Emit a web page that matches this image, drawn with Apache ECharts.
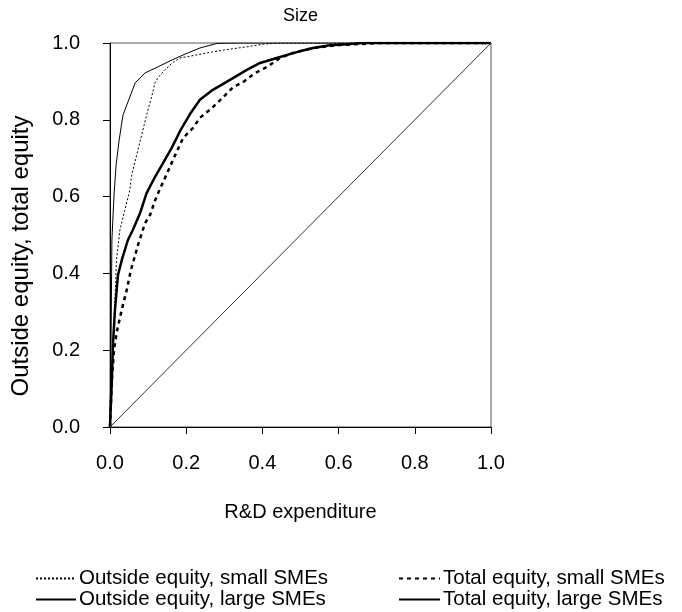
<!DOCTYPE html>
<html>
<head>
<meta charset="utf-8">
<script src="https://cdn.jsdelivr.net/npm/echarts@6/dist/echarts.min.js"></script>
<style>html,body{margin:0;padding:0;background:#fff}#c{width:682px;height:612px}</style>
</head>
<body>
<div id="c"></div>
<script>
var xTicks = [0, 0.2, 0.4, 0.6, 0.8, 1.0];
var yTicks = [0, 0.2, 0.4, 0.6, 0.8, 1.0];

var outsideSmallX = [0, 0.004, 0.008, 0.013, 0.017, 0.026, 0.039, 0.052, 0.057, 0.070, 0.083, 0.096, 0.109, 0.118, 0.127, 0.144, 0.163, 0.184, 0.228, 0.270, 0.315, 0.359, 0.402, 0.446, 1.0];
var outsideSmallY = [0, 0.122, 0.214, 0.331, 0.435, 0.513, 0.565, 0.617, 0.656, 0.708, 0.760, 0.812, 0.859, 0.896, 0.911, 0.930, 0.948, 0.961, 0.969, 0.977, 0.984, 0.990, 0.997, 1.0, 1.0];

var outsideLargeX = [0, 0.003, 0.005, 0.0105, 0.016, 0.024, 0.034, 0.045, 0.066, 0.092, 0.126, 0.163, 0.197, 0.236, 0.281, 0.34, 1.0];
var outsideLargeY = [0, 0.25, 0.487, 0.604, 0.682, 0.747, 0.812, 0.841, 0.896, 0.922, 0.938, 0.956, 0.971, 0.987, 0.999, 1.0, 1.0];

var totalSmallX = [0, 0.0045, 0.0105, 0.0176, 0.026, 0.034, 0.044, 0.055, 0.0735, 0.092, 0.105, 0.118, 0.131, 0.144, 0.157, 0.171, 0.192, 0.218, 0.236, 0.270, 0.297, 0.323, 0.349, 0.381, 0.412, 0.446, 0.480, 0.533, 0.604, 0.71, 1.0];
var totalSmallY = [0, 0.115, 0.200, 0.247, 0.284, 0.318, 0.357, 0.409, 0.474, 0.531, 0.552, 0.589, 0.620, 0.648, 0.677, 0.708, 0.753, 0.779, 0.805, 0.833, 0.859, 0.885, 0.898, 0.922, 0.9375, 0.961, 0.974, 0.987, 0.995, 1.0, 1.0];

var totalLargeX = [0, 0.0045, 0.008, 0.013, 0.021, 0.031, 0.047, 0.060, 0.079, 0.096, 0.118, 0.162, 0.184, 0.210, 0.236, 0.270, 0.315, 0.359, 0.394, 0.4375, 0.472, 0.493, 0.533, 0.577, 0.622, 0.664, 1.0];
var totalLargeY = [0, 0.115, 0.219, 0.305, 0.396, 0.435, 0.487, 0.513, 0.557, 0.609, 0.651, 0.727, 0.771, 0.815, 0.852, 0.878, 0.904, 0.930, 0.948, 0.961, 0.971, 0.977, 0.987, 0.994, 0.997, 1.0, 1.0];

var diagX = [0, 1];
var diagY = [0, 1];

var names = ['Outside equity, small SMEs', 'Total equity, small SMEs', 'Outside equity, large SMEs', 'Total equity, large SMEs'];
var titleText = 'Size';
var xName = 'R&D expenditure';
var yName = 'Outside equity, total equity';

function pairs(xs, ys) { return xs.map(function (x, i) { return [x, ys[i]]; }); }

var FONT = '"Liberation Sans", Arial, Helvetica, sans-serif';

function legendAt(name, left, top, w) {
  return {
    data: [name], orient: 'horizontal', left: left, top: top,
    itemWidth: w, itemHeight: 14, padding: 0,
    itemStyle: { color: 'rgba(0,0,0,0)', borderColor: 'rgba(0,0,0,0)', borderWidth: 0 },
    textStyle: { fontFamily: FONT, fontSize: 20.5, color: '#000', padding: [0, 0, 0, -2] },
    selectedMode: false
  };
}

var chart = echarts.init(document.getElementById('c'), null, { renderer: 'canvas' });
chart.setOption({
  backgroundColor: '#fff',
  animation: false,
  title: {
    text: titleText, left: 300.5, top: 7, textAlign: 'center', padding: 0,
    textStyle: { fontFamily: FONT, fontSize: 18, fontWeight: 'normal', color: '#000' }
  },
  grid: { left: 110, right: 191, top: 43, bottom: 185, show: true, borderColor: '#555', borderWidth: 1 },
  xAxis: {
    type: 'value', min: 0, max: 1, interval: 0.2,
    name: xName, nameLocation: 'middle', nameGap: 75,
    nameTextStyle: { fontFamily: FONT, fontSize: 20, color: '#000' },
    axisLine: { show: true, lineStyle: { color: '#000', width: 1 } },
    axisTick: { show: true, length: 7, lineStyle: { color: '#000' } },
    axisLabel: { margin: 26, fontFamily: FONT, fontSize: 20, color: '#000', formatter: function (v) { return v.toFixed(1); } },
    splitLine: { show: false }
  },
  yAxis: {
    type: 'value', min: 0, max: 1, interval: 0.2,
    axisLine: { show: true, lineStyle: { color: '#000', width: 1 } },
    axisTick: { show: true, length: 7, lineStyle: { color: '#000' } },
    axisLabel: { margin: 30, fontFamily: FONT, fontSize: 20, color: '#000', formatter: function (v) { return v.toFixed(1); } },
    splitLine: { show: false }
  },
  graphic: [{
    type: 'text', x: 21, y: 256, rotation: Math.PI / 2, silent: true,
    style: { text: yName, font: '24px "Liberation Sans", Arial, sans-serif', fill: '#000', align: 'center', verticalAlign: 'middle' }
  }],
  legend: [
    legendAt(names[0], 35, 568, 40),
    legendAt(names[1], 398, 568, 41),
    legendAt(names[2], 35, 589, 40),
    legendAt(names[3], 398, 589, 41)
  ],
  series: [
    { name: names[0], type: 'line', data: pairs(outsideSmallX, outsideSmallY), symbol: 'none', lineStyle: { color: '#000', width: 1, type: [2, 2] }, itemStyle: { color: '#000' } },
    { name: names[1], type: 'line', data: pairs(totalSmallX, totalSmallY), symbol: 'none', lineStyle: { color: '#000', width: 2.5, type: [4, 4] }, itemStyle: { color: '#000' } },
    { name: names[2], type: 'line', data: pairs(outsideLargeX, outsideLargeY), symbol: 'none', lineStyle: { color: '#000', width: 1, type: 'solid' }, itemStyle: { color: '#000' } },
    { name: names[3], type: 'line', data: pairs(totalLargeX, totalLargeY), symbol: 'none', lineStyle: { color: '#000', width: 2.5, type: 'solid' }, itemStyle: { color: '#000' } },
    { name: 'diag', type: 'line', data: pairs(diagX, diagY), symbol: 'none', silent: true, lineStyle: { color: '#333', width: 1 } }
  ]
});
</script>
</body>
</html>
